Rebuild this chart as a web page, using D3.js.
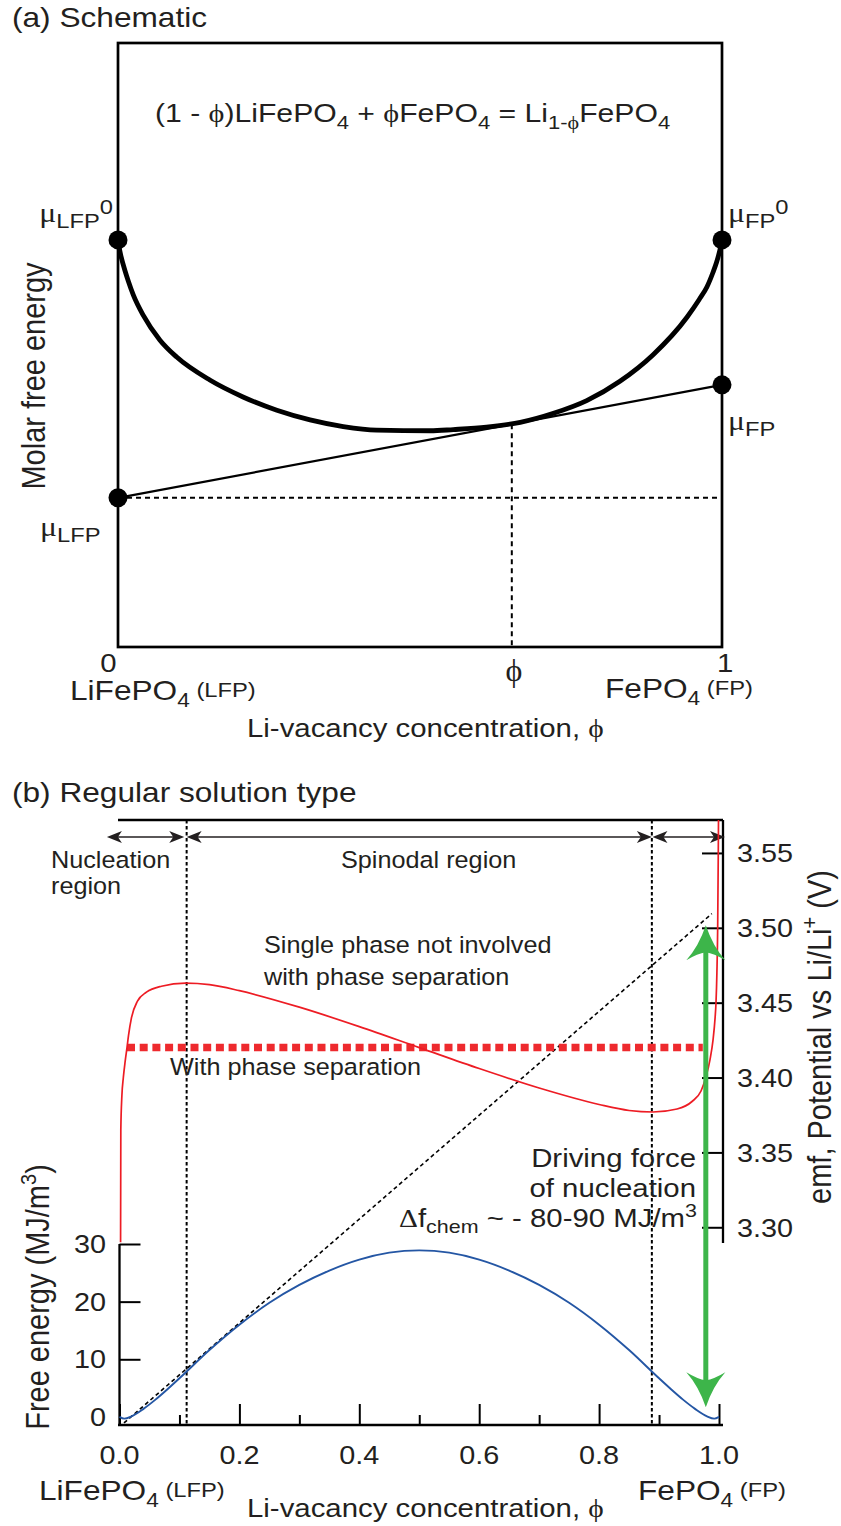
<!DOCTYPE html>
<html>
<head>
<meta charset="utf-8">
<script src="https://cdn.jsdelivr.net/npm/d3@7"></script>
<style>
  html, body { margin: 0; padding: 0; background: #fff; }
  svg { display: block; }
  text { font-family: "Liberation Sans", Arial, Helvetica, sans-serif; fill: #231f20; white-space: pre; }
</style>
</head>
<body>
<svg id="chart" width="841" height="1526"></svg>
<script>
// ---------- (a) schematic free-energy curve (arbitrary energy units, 0..100) ----------
const schemPhi = [0, 0.002, 0.005, 0.0116, 0.017, 0.0253, 0.0419, 0.0695, 0.0972, 0.152, 0.207,
                  0.263, 0.318, 0.373, 0.428, 0.517, 0.555, 0.610, 0.666, 0.721, 0.776, 0.831,
                  0.886, 0.942, 0.962, 0.975, 0.985, 0.991, 0.996, 1];
const schemG   = [67.4, 66.1, 64.7, 62.3, 60.6, 58.3, 54.9, 50.8, 48.0, 44.2, 41.4,
                  39.2, 37.6, 36.5, 35.9, 35.8, 36.0, 36.4, 37.2, 38.7, 40.8, 44.0,
                  48.4, 54.6, 57.5, 59.6, 62.0, 63.7, 65.5, 67.4];
const muLFP0 = 67.4, muFP0 = 67.4;     // pure end members
const muLFP = 24.7, muFP = 43.4;       // common-tangent intercepts
const tangentPhi = 0.652;

// ---------- (b) regular solution: emf (V) and free energy (MJ/m3) ----------
const emfPhi = [0.0018, 0.0022, 0.004, 0.0064, 0.0095, 0.0125, 0.015, 0.02, 0.03, 0.045, 0.07, 0.11,
                0.15, 0.2, 0.3, 0.4, 0.5, 0.6, 0.7, 0.8, 0.85, 0.89, 0.93, 0.955, 0.97, 0.978,
                0.985, 0.99, 0.9935, 0.995, 0.9965, 0.9978, 0.9988, 0.9993];
const emfV   = [3.29, 3.365, 3.388, 3.40, 3.411, 3.42, 3.428, 3.44, 3.451, 3.457, 3.461, 3.463,
                3.462, 3.458, 3.447, 3.434, 3.42, 3.406, 3.393, 3.382, 3.378, 3.377, 3.379, 3.384, 3.391, 3.40,
                3.412, 3.425, 3.44, 3.45, 3.47, 3.50, 3.55, 3.58];
const plateauV = 3.42;
const plateauRange = [0.0125, 0.973];

const freePhi = [0, 0.008, 0.02, 0.04, 0.06, 0.08, 0.1, 0.15, 0.2, 0.25, 0.3, 0.35, 0.4, 0.45, 0.5,
                 0.55, 0.6, 0.65, 0.7, 0.75, 0.8, 0.85, 0.9, 0.92, 0.94, 0.96, 0.98, 0.992, 1];
const freeF   = [0, -0.3, 0.1, 1.4, 3.0, 4.8, 6.7, 11.6, 16.0, 19.8, 22.9, 25.4, 27.3, 28.5, 28.9,
                 28.5, 27.3, 25.4, 22.9, 19.8, 16.0, 11.6, 6.7, 4.8, 3.0, 1.4, 0.1, -0.3, 0];

const tangentPts = [[0.0075, -1.04], [0.988, 87.3]];   // dotted tangent in MJ/m3
const drivingPhi = 0.978, drivingFrom = 1.7, drivingTo = 85.3;
const spinodal = [0.112, 0.888];
const regionArrows = [[-0.021, 0.108], [0.112, 0.888], [0.889, 1.01]];

const xTicks = [0, 0.2, 0.4, 0.6, 0.8, 1.0];
const xMinorTicks = [0.1, 0.3, 0.5, 0.7, 0.9];
const fTicks = [0, 10, 20, 30];
const vTicks = [3.30, 3.35, 3.40, 3.45, 3.50, 3.55];

// ---------- setup ----------
const svg = d3.select("#chart");
const INK = "#231f20";
const SERIF = '"Liberation Serif","DejaVu Serif",serif';
const SX = 1.13;

function label(x, y, parts, o) {
  o = o || {};
  const size = o.size || 25, sx = o.sx || 1, anchor = o.anchor || "start";
  const tr = o.rotate
    ? `translate(${x},${y}) rotate(${o.rotate}) scale(1,${sx})`
    : `translate(${x},${y}) scale(${sx},1)`;
  const t = svg.append("text").attr("transform", tr)
    .attr("text-anchor", anchor).attr("font-size", size);
  let prev = 0;
  parts.forEach(p => {
    if (typeof p === "string") p = { t: p };
    const off = p.off || 0;
    const ts = t.append("tspan").text(p.t).attr("dy", off - prev);
    if (p.size) ts.attr("font-size", p.size);
    if (p.serif) ts.attr("font-family", SERIF);
    prev = off;
  });
  return t;
}

// =================== panel (a) ===================
const xa = d3.scaleLinear().domain([0, 1]).range([118, 722]);
const ya = d3.scaleLinear().domain([0, 100]).range([647, 43]);

// frame
svg.append("rect").attr("x", xa(0)).attr("y", ya(100))
  .attr("width", xa(1) - xa(0)).attr("height", ya(0) - ya(100))
  .attr("fill", "none").attr("stroke", "#000").attr("stroke-width", 2.7);

// dotted guides
svg.append("line").attr("x1", xa(0)).attr("x2", xa(1)).attr("y1", ya(muLFP)).attr("y2", ya(muLFP))
  .attr("stroke", "#000").attr("stroke-width", 2).attr("stroke-dasharray", "5,4");
const tangentG = muLFP + (muFP - muLFP) * tangentPhi;
svg.append("line").attr("x1", xa(tangentPhi)).attr("x2", xa(tangentPhi))
  .attr("y1", ya(tangentG)).attr("y2", ya(0))
  .attr("stroke", "#000").attr("stroke-width", 2).attr("stroke-dasharray", "5,4");

// common tangent
svg.append("line").attr("x1", xa(0)).attr("y1", ya(muLFP)).attr("x2", xa(1)).attr("y2", ya(muFP))
  .attr("stroke", "#000").attr("stroke-width", 2.2);

// free energy curve
svg.append("path")
  .datum(schemPhi.map((p, i) => [p, schemG[i]]))
  .attr("fill", "none").attr("stroke", "#000").attr("stroke-width", 4.8)
  .attr("stroke-linejoin", "round")
  .attr("d", d3.line().x(d => xa(d[0])).y(d => ya(d[1])).curve(d3.curveMonotoneX));

// end-point dots
[[0, muLFP0], [1, muFP0], [1, muFP], [0, muLFP]].forEach(([p, g]) => {
  svg.append("circle").attr("cx", xa(p)).attr("cy", ya(g)).attr("r", 9.5).attr("fill", "#000");
});

// labels (a)
label(12, 27, ["(a) Schematic"], { size: 28, sx: SX });
label(155, 122, [
  "(1 - ", { t: "ϕ", serif: true }, ")LiFePO", { t: "4", size: 19, off: 7 },
  { t: " + " }, { t: "ϕ", serif: true }, "FePO", { t: "4", size: 19, off: 7 },
  { t: " = Li" }, { t: "1-", size: 19, off: 7 }, { t: "ϕ", size: 19, off: 7, serif: true },
  "FePO", { t: "4", size: 19, off: 7 }
], { size: 26, sx: 1.16 });

label(113, 222, [{ t: "μ", serif: true }, { t: "LFP", size: 21, off: 6 }, { t: "0", size: 21, off: -8 }],
  { size: 28, sx: SX, anchor: "end" });
label(728, 222, [{ t: "μ", serif: true }, { t: "FP", size: 21, off: 6 }, { t: "0", size: 21, off: -8 }],
  { size: 28, sx: SX });
label(728, 430, [{ t: "μ", serif: true }, { t: "FP", size: 21, off: 6 }], { size: 28, sx: SX });
label(40, 536, [{ t: "μ", serif: true }, { t: "LFP", size: 21, off: 6 }], { size: 28, sx: SX });

label(45, 376, ["Molar free energy"], { size: 29, sx: 1.14, rotate: -90, anchor: "middle" });

label(xa(0) - 9.5, 672, ["0"], { size: 26, sx: SX, anchor: "middle" });
label(xa(1) - 5, 672, ["1"], { size: 26, sx: SX });
label(xa(tangentPhi) + 2, 681, [{ t: "ϕ", serif: true }], { size: 32, anchor: "middle" });
label(70, 700, ["LiFePO", { t: "4", size: 20, off: 7 }, { t: " (LFP)", size: 21, off: -3 }], { size: 28, sx: SX });
label(605, 698, ["FePO", { t: "4", size: 20, off: 7 }, { t: " (FP)", size: 21, off: -3 }], { size: 28, sx: SX });
label(247, 737, ["Li-vacancy concentration, ", { t: "ϕ", serif: true }], { size: 26, sx: SX });

// =================== panel (b) ===================
const xb = d3.scaleLinear().domain([0, 1]).range([119.5, 719]);
const yF = d3.scaleLinear().domain([-1.4, 30]).range([1425, 1244]);
const yV = d3.scaleLinear().domain([3.2895, 3.572]).range([1243, 820]);
const xLeft = 118, xRight = 723, yTop = yV(3.572), yBase = yF(-1.4);

svg.append("defs").append("clipPath").attr("id", "plotB")
  .append("rect").attr("x", xLeft).attr("y", yTop).attr("width", xRight - xLeft).attr("height", yBase - yTop);

// frame pieces
const frame = svg.append("g").attr("stroke", "#000").attr("stroke-width", 2.3).attr("fill", "none");
frame.append("line").attr("x1", xLeft).attr("x2", xRight).attr("y1", yTop).attr("y2", yTop);
frame.append("line").attr("x1", xRight).attr("x2", xRight).attr("y1", yTop).attr("y2", yV(3.2895));
frame.append("line").attr("x1", xb(0)).attr("x2", xb(0)).attr("y1", yF(30)).attr("y2", yBase + 1);
frame.append("line").attr("x1", xLeft).attr("x2", xRight).attr("y1", yBase).attr("y2", yBase);

// axes ticks (inward)
function styleAxis(g) {
  g.select(".domain").remove();
  g.selectAll(".tick line").attr("stroke", "#000").attr("stroke-width", 2);
  g.selectAll(".tick text").remove();
}
svg.append("g").attr("transform", `translate(0,${yBase})`)
  .call(d3.axisBottom(xb).tickValues(xTicks).tickSize(-21).tickSizeOuter(0)).call(styleAxis);
svg.append("g").attr("transform", `translate(0,${yBase})`)
  .call(d3.axisBottom(xb).tickValues(xMinorTicks).tickSize(-10).tickSizeOuter(0)).call(styleAxis);
svg.append("g").attr("transform", `translate(${xb(0)},0)`)
  .call(d3.axisLeft(yF).tickValues(fTicks.filter(v => v !== 0)).tickSize(-21).tickSizeOuter(0)).call(styleAxis);
svg.append("g").attr("transform", `translate(${xRight},0)`)
  .call(d3.axisRight(yV).tickValues(vTicks).tickSize(-21).tickSizeOuter(0)).call(styleAxis);

// tick labels
xTicks.forEach(v => label(xb(v), 1464, [d3.format(".1f")(v)], { size: 25.5, sx: SX, anchor: "middle" }));
fTicks.forEach(v => label(106, yF(v) + 9, [String(v)], { size: 25.5, sx: SX, anchor: "end" }));
vTicks.forEach(v => label(737, yV(v) + 9.5, [d3.format(".2f")(v)], { size: 25.5, sx: SX }));

// spinodal boundaries
spinodal.forEach(p => {
  svg.append("line").attr("x1", xb(p)).attr("x2", xb(p)).attr("y1", yTop).attr("y2", yBase)
    .attr("stroke", "#000").attr("stroke-width", 2).attr("stroke-dasharray", "3.5,2.5");
});

// region arrows
const arrowY = yTop + 17;
function headPath(x, y, dir) {
  const s = dir;
  return `M${x},${y} L${x - 15 * s},${y - 6} L${x - 11 * s},${y} L${x - 15 * s},${y + 6} Z`;
}
regionArrows.forEach(([a, b]) => {
  const x1 = xb(a), x2 = xb(b);
  svg.append("line").attr("x1", x1 + 4).attr("x2", x2 - 4).attr("y1", arrowY).attr("y2", arrowY)
    .attr("stroke", INK).attr("stroke-width", 1.6);
  svg.append("path").attr("d", headPath(x2, arrowY, 1)).attr("fill", INK);
  svg.append("path").attr("d", headPath(x1, arrowY, -1)).attr("fill", INK);
});

// dotted common tangent in free energy
svg.append("line")
  .attr("x1", xb(tangentPts[0][0])).attr("y1", yF(tangentPts[0][1]))
  .attr("x2", xb(tangentPts[1][0])).attr("y2", yF(tangentPts[1][1]))
  .attr("stroke", "#000").attr("stroke-width", 1.6).attr("stroke-dasharray", "4,3");

// plateau (two-phase) potential
svg.append("line")
  .attr("x1", xb(plateauRange[0])).attr("x2", xb(plateauRange[1]))
  .attr("y1", yV(plateauV)).attr("y2", yV(plateauV))
  .attr("stroke", "#ee2a2e").attr("stroke-width", 7.5).attr("stroke-dasharray", "8,4.7");

// emf curve
svg.append("path")
  .datum(emfPhi.map((p, i) => [p, emfV[i]]))
  .attr("clip-path", "url(#plotB)")
  .attr("fill", "none").attr("stroke", "#ed1c24").attr("stroke-width", 1.7)
  .attr("d", d3.line().x(d => xb(d[0])).y(d => yV(d[1])).curve(d3.curveMonotoneX));

// free energy curve
svg.append("path")
  .datum(freePhi.map((p, i) => [p, freeF[i]]))
  .attr("fill", "none").attr("stroke", "#2456a4").attr("stroke-width", 1.9)
  .attr("d", d3.line().x(d => xb(d[0])).y(d => yF(d[1])).curve(d3.curveMonotoneX));

// driving-force double arrow
const GREEN = "#3db54a";
const gx = xb(drivingPhi), gTop = yF(drivingTo), gBot = yF(drivingFrom);
svg.append("line").attr("x1", gx).attr("x2", gx).attr("y1", gTop + 25).attr("y2", gBot - 25)
  .attr("stroke", GREEN).attr("stroke-width", 5);
function greenHead(x, y, dir) {
  const s = dir; // 1 = points up
  return `M${x},${y} Q${x + 7},${y + 21 * s} ${x + 19.5},${y + 35 * s} Q${x + 8},${y + 28 * s} ${x},${y + 27 * s}` +
         ` Q${x - 8},${y + 28 * s} ${x - 19.5},${y + 35 * s} Q${x - 7},${y + 21 * s} ${x},${y} Z`;
}
svg.append("path").attr("d", greenHead(gx, gTop, 1)).attr("fill", GREEN);
svg.append("path").attr("d", greenHead(gx, gBot, -1)).attr("fill", GREEN);

// labels (b)
label(12, 802, ["(b) Regular solution type"], { size: 28, sx: SX });
label(51, 868, ["Nucleation"], { size: 24.5, sx: 1.03 });
label(51, 894, ["region"], { size: 24.5, sx: 1.03 });
label(341, 868, ["Spinodal region"], { size: 24.5, sx: 1.03 });
label(264, 953, ["Single phase not involved"], { size: 24.5, sx: 1.03 });
label(264, 985, ["with phase separation"], { size: 24.5, sx: 1.03 });
label(170, 1075, ["With phase separation"], { size: 24.5, sx: 1.03 });
label(696, 1167, ["Driving force"], { size: 26, sx: SX, anchor: "end" });
label(696, 1197, ["of nucleation"], { size: 26, sx: SX, anchor: "end" });
label(697, 1227, [{ t: "Δ", serif: true }, "f", { t: "chem", size: 19, off: 6 }, { t: " ~ - 80-90 MJ/m" }, { t: "3", size: 19, off: -10 }],
  { size: 26, sx: SX, anchor: "end" });

label(49, 1297, ["Free energy (MJ/m", { t: "3", size: 20, off: -11 }, { t: ")" }],
  { size: 29, sx: 1.14, rotate: -90, anchor: "middle" });
label(831, 1037, ["emf, Potential vs Li/Li", { t: "+", size: 20, off: -12 }, { t: " (V)" }],
  { size: 29, sx: 1.14, rotate: -90, anchor: "middle" });

label(39, 1500, ["LiFePO", { t: "4", size: 20, off: 7 }, { t: " (LFP)", size: 21, off: -3 }], { size: 28, sx: SX });
label(638, 1500, ["FePO", { t: "4", size: 20, off: 7 }, { t: " (FP)", size: 21, off: -3 }], { size: 28, sx: SX });
label(247, 1517, ["Li-vacancy concentration, ", { t: "ϕ", serif: true }], { size: 26, sx: SX });
</script>
</body>
</html>
